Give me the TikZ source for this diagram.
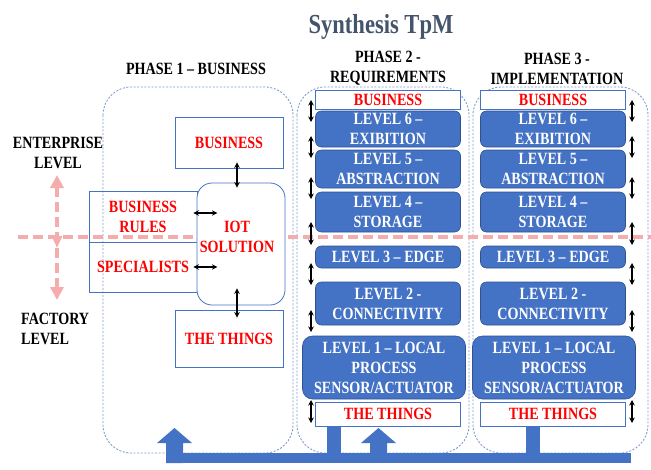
\documentclass[tikz,border=0pt]{standalone}
\usepackage{fontspec}
\setmainfont{Liberation Serif}[FakeStretch=0.82]
\usetikzlibrary{arrows.meta, positioning}
\definecolor{tpmBlue}{HTML}{4472C4}
\definecolor{tpmDark}{HTML}{2F528F}
\definecolor{tpmSlate}{HTML}{44546A}
\definecolor{tpmPink}{RGB}{245,172,172}
\definecolor{tpmDots}{RGB}{125,155,205}

\begin{document}
\begin{tikzpicture}[x=1pt, y=-1pt,
    every node/.style={font=\fontsize{17.2}{20}\selectfont\bfseries, inner sep=0pt, align=center},
    wbox/.style={draw=tpmBlue, line width=0.8pt, text=red},
    lvl/.style={draw=tpmDark, line width=0.6pt, fill=tpmBlue, text=white, rounded corners=6pt},
    phase/.style={draw=tpmDots, line width=0.9pt, dash pattern=on 2pt off 1.6pt, rounded corners=28pt},
    dbl/.style={{Stealth[length=5.5pt,width=5.5pt]}-{Stealth[length=5.5pt,width=5.5pt]}, line width=1.4pt},
    pinky/.style={draw=tpmPink, line width=4.5pt, dash pattern=on 10pt off 5pt},
    bus/.style={fill=tpmBlue}]
    \useasboundingbox (0,0) rectangle (651,469);
    % titles
    \node[font=\fontsize{27.5}{30}\selectfont\bfseries, text=tpmSlate, anchor=base] (title) at (381,33) {Synthesis TpM};
    \node (ph1) at (196,69) {PHASE 1 – BUSINESS};
    \node (ph2) at (388,68.5) {PHASE 2 -\\REQUIREMENTS};
    \node (ph3) at (557,68.5) {PHASE 3 -\\IMPLEMENTATION};
    % phase frames
    \draw[phase] (103,87) rectangle (293,453);
    \draw[phase] (297,87) rectangle (469,453);
    \draw[phase] (473,87) rectangle (648,453);
    % enterprise / factory split
    \draw[pinky] (18,237) -- (651,237);
    \node (ent) at (58,152.5) {ENTERPRISE\\LEVEL};
    \node[align=left, anchor=west] (fac) at (21,328.5) {FACTORY\\LEVEL};
    \coordinate (up) at (57,175);
    \coordinate (mid) at (57,248);
    \coordinate (dn) at (57,300);
    \draw[pinky, {Triangle[length=13pt,width=13pt]}-{Triangle[length=12pt,width=10pt]}] (up) -- (mid);
    \draw[pinky, -{Triangle[length=13pt,width=13pt]}] (mid) -- (dn);
    % phase 1
    \node[wbox, minimum width=108, minimum height=51] (biz) at (229,142.5) {BUSINESS};
    \node[wbox, minimum width=108, minimum height=51] (rules) at (143,216.5) {BUSINESS\\RULES};
    \node[wbox, minimum width=108, minimum height=50] (spec) at (143,267) {SPECIALISTS};
    \node[wbox, fill=white, rounded corners=15pt, minimum width=88, minimum height=122] (iot) at (241,244) {};
    \node[text=red] (iottxt) at ([xshift=-4pt, yshift=7pt]iot.center) {IOT\\SOLUTION};
    \node[wbox, minimum width=108, minimum height=57] (things1) at (229,338.5) {THE THINGS};
    \draw[dbl] ([xshift=8pt, yshift=6pt]biz.south) -- ([xshift=-4pt, yshift=-5pt]iot.north);
    \draw[dbl] ([xshift=-4pt, yshift=3.5pt]rules.east) -- ++(24,0);
    \draw[dbl] ([xshift=-4pt]spec.east) -- ++(24,0);
    \draw[dbl] ([xshift=-4pt, yshift=17pt]iot.south) -- ([xshift=8pt, yshift=-8pt]things1.north);
    % phase 2 and 3 columns
    \foreach \c/\xc/\xo in {2/388/384, 3/553/554} {
      \node[wbox, fill=white, minimum width=145, minimum height=19] (top\c) at (\xc,99.5) {BUSINESS};
      \node[lvl, minimum width=145, minimum height=36] (six\c) at (\xc,129) {LEVEL 6 –\\EXIBITION};
      \node[lvl, minimum width=145, minimum height=38] (five\c) at (\xc,169) {LEVEL 5 –\\ABSTRACTION};
      \node[lvl, minimum width=145, minimum height=40] (four\c) at (\xc,212) {LEVEL 4 –\\STORAGE};
      \node[lvl, minimum width=145, minimum height=22] (three\c) at (\xc,257) {LEVEL 3 – EDGE};
      \node[lvl, minimum width=145, minimum height=43] (two\c) at (\xc,303.5) {LEVEL 2 -\\CONNECTIVITY};
      \node[lvl, rounded corners=10pt, minimum width=163, minimum height=63] (one\c) at (\xo,367.5) {LEVEL 1 – LOCAL\\PROCESS\\SENSOR/ACTUATOR};
      \node[wbox, fill=white, minimum width=145, minimum height=24] (things\c) at (\xc,414) {THE THINGS};
    }
    \foreach \ya/\yb in {100/122, 136/158, 177/199, 222/245, 263/285, 310/332, 400/423} {
      \draw[dbl] (311,\ya) -- (311,\yb);
      \draw[dbl] (632,\ya) -- (632,\yb);
    }
    % feedback bus
    \fill[bus] (166,453) rectangle (631,463);
    \fill[bus] (166,463) -- (166,443) -- (157,443) -- (174.5,428) -- (192,443) -- (183,443) -- (183,463) -- cycle;
    \fill[bus] (327,426) rectangle (341,453);
    \fill[bus] (370,453) -- (370,443) -- (361,443) -- (378.5,428) -- (396,443) -- (387,443) -- (387,453) -- cycle;
    \fill[bus] (526,426) rectangle (540,453);
  \end{tikzpicture}
\end{document}
